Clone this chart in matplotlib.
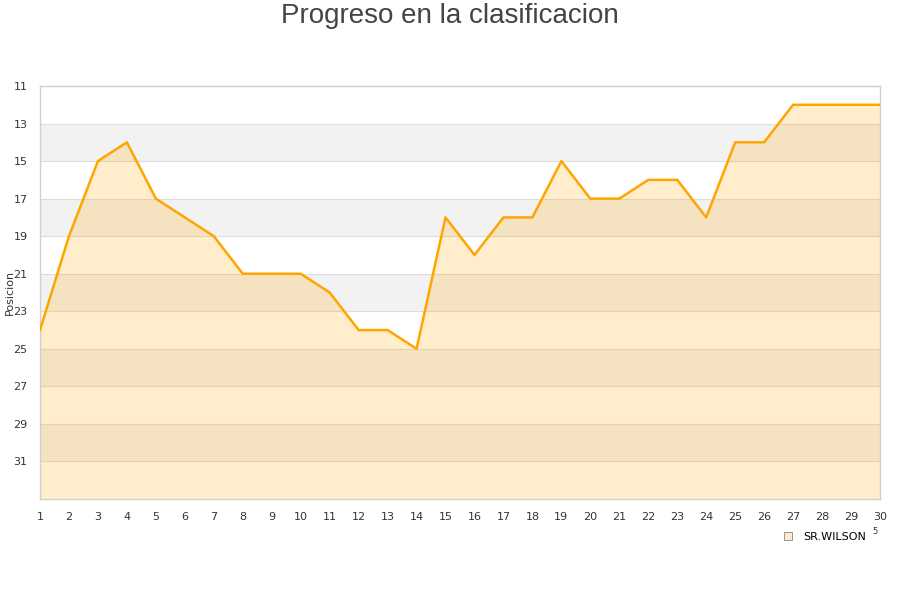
import numpy as np
import matplotlib.pyplot as plt

jornadas = list(range(1, 31))
posiciones = [24, 19, 15, 14, 17, 18, 19, 21, 21, 21, 22, 24, 24, 25, 18,
              20, 18, 18, 15, 17, 17, 16, 16, 18, 14, 14, 12, 12, 12, 12]
equipo = 'SR.WILSON'
y_ticks = list(range(11, 33, 2))


def draw_chart():
    fig = plt.figure(figsize=(9, 6), dpi=100)
    ax = fig.add_axes([40 / 900, 1 - 499 / 600, 840 / 900, 413 / 600])

    # alternating bands
    for i, y0 in enumerate(y_ticks):
        if i % 2 == 1:
            ax.axhspan(y0, y0 + 2, color='#f2f2f2', zorder=0, lw=0)
    for y0 in y_ticks:
        ax.axhline(y0, color='#dddddd', lw=0.8, zorder=1)

    ax.fill_between(jornadas, posiciones, 33, color='#ffa500', alpha=0.2, lw=0, zorder=2)
    ax.plot(jornadas, posiciones, color='#ffa500', lw=1.8, zorder=3)

    ax.set_xlim(1, 30)
    ax.set_ylim(33, 11)
    ax.set_xticks(jornadas)
    ax.set_yticks(y_ticks)
    ax.tick_params(length=0, labelsize=8, colors='#333333')
    ax.tick_params(axis='y', pad=9)
    ax.tick_params(axis='x', pad=9)
    for s in ax.spines.values():
        s.set_color('#d0d0d0')
        s.set_linewidth(1)

    fig.text(10 / 900, 1 - 292 / 600, 'Posicion', rotation=90, fontsize=8,
             color='#333333', ha='center', va='center')
    fig.text(0.5, 1 - 16 / 600, 'Progreso en la clasificacion', ha='center', va='center',
             fontsize=20, color='#444444', family='Liberation Sans')

    handle = plt.Rectangle((0, 0), 1, 1, facecolor='#ffebc9', edgecolor='#888888', lw=0.6)
    fig.legend([handle], [equipo], loc='center', bbox_to_anchor=(0.917, 1 - 537 / 600),
               frameon=False, fontsize=8, handlelength=0.7, handleheight=0.7,
               handletextpad=1.0)
    fig.text(875 / 900, 1 - 532 / 600, '5', fontsize=6, color='#333333', ha='center', va='center')

    plt.savefig('out.png', dpi=100)


if __name__ == '__main__':
    draw_chart()
